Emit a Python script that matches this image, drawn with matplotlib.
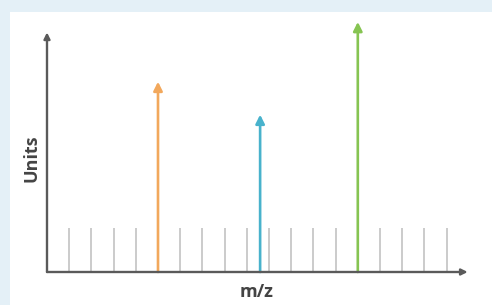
import matplotlib
matplotlib.use("Agg")
import matplotlib.pyplot as plt
from matplotlib.patches import Rectangle

# Data (arbitrary units; x in tick-spacing units)
gray_positions = [1, 2, 3, 4, 6, 7, 8, 9, 10, 11, 12, 13, 15, 16, 17, 18]
gray_height = 18
peak_positions = [5, 9.6, 14]
peak_heights = [78, 64.5, 102.5]
peak_colors = ["#f2a85c", "#48b2cc", "#86c452"]
x_label = "m/z"
y_label = "Units"

W, H = 492, 305
fig = plt.figure(figsize=(W / 100, H / 100), dpi=100)
fig.patch.set_facecolor("#e4f0f7")
fig.add_artist(Rectangle((10 / W, 0), 1 - 10 / W, 1 - 12 / H, transform=fig.transFigure,
                         facecolor="white", edgecolor="none", zorder=0))

x0, y0 = 47, 272
xs, ys = 22.2, 2.44
xmax, ymax = 19, 110
ax = fig.add_axes([x0 / W, (H - y0) / H, xmax * xs / W, ymax * ys / H])
ax.set_xlim(0, xmax)
ax.set_ylim(0, ymax)
ax.axis("off")
ax.patch.set_alpha(0)

# gray ticks
ax.vlines(gray_positions, 0, gray_height, color="#cbcbcb", lw=1.4, zorder=1)

# axes arrows
axis_color = "#5a5a5a"
ax.annotate("", xy=(18.95, 0), xytext=(0, 0),
            arrowprops=dict(arrowstyle="-|>", color=axis_color, lw=1.7,
                            mutation_scale=9, shrinkA=0, shrinkB=0), zorder=3)
ax.annotate("", xy=(0, 98.2), xytext=(0, 0),
            arrowprops=dict(arrowstyle="-|>", color=axis_color, lw=1.7,
                            mutation_scale=9, shrinkA=0, shrinkB=0), zorder=3)

# peaks
for xp, hp, c in zip(peak_positions, peak_heights, peak_colors):
    ax.annotate("", xy=(xp, hp), xytext=(xp, 0),
                arrowprops=dict(arrowstyle="-|>", color=c, lw=1.9,
                                mutation_scale=13, shrinkA=0, shrinkB=0), zorder=2)

fig.text(257 / W, 1 - 292 / H, x_label, ha="center", va="center",
         fontsize=13, fontweight="bold", color="#444444", family="Open Sans")
fig.text(32 / W, 1 - 158 / H, y_label, ha="center", va="center", rotation=90,
         fontsize=13, fontweight="bold", color="#444444", family="Open Sans")

fig.savefig("out.png", dpi=100, facecolor=fig.get_facecolor())
